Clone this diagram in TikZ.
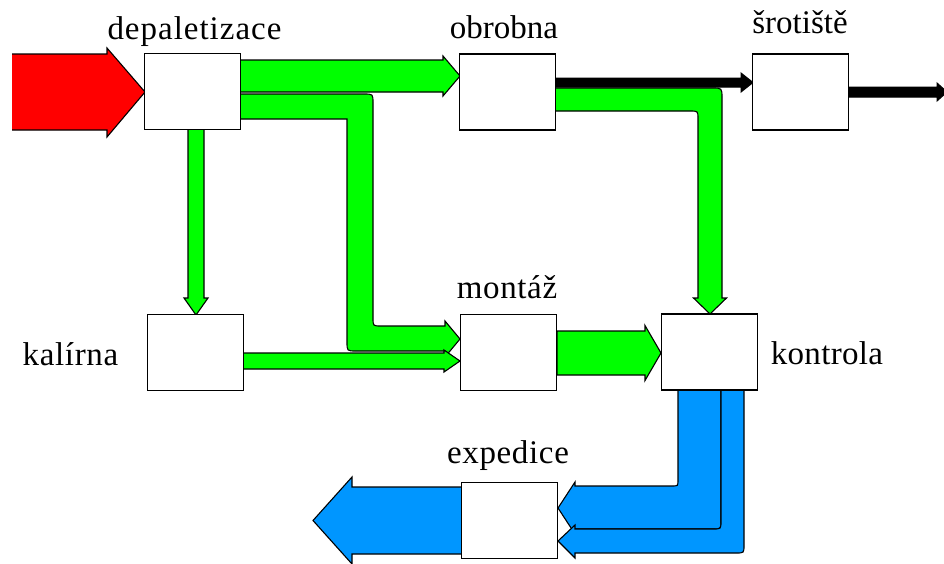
\documentclass[tikz,border=0pt]{standalone}
\usepackage{fontspec}
\setmainfont{Liberation Serif}
\definecolor{grn}{RGB}{0,255,0}
\definecolor{blu}{RGB}{0,150,255}
\definecolor{rd}{RGB}{255,0,0}
\begin{document}
\begin{tikzpicture}[x=1pt,y=-1pt,
  box/.style={draw=black, fill=white, line width=1.3pt, minimum width=96pt, minimum height=76pt, inner sep=0pt},
  lbl/.style={font=\fontsize{33}{40}\selectfont\addfontfeature{LetterSpace=#1}, anchor=base, inner sep=0pt},
  lbl/.default=2,
  ga/.style={fill=grn, draw=black, line width=1.1pt, line join=miter},
  ba/.style={fill=blu, draw=black, line width=1.1pt, line join=miter},
  ka/.style={fill=black, draw=black, line width=1pt, line join=miter}]
\useasboundingbox (0,0) rectangle (944,563);

% green arrows
\draw[ga] (240,60) -- (443,60) -- (443,56) -- (460,76) -- (443,96) -- (443,92) -- (240,92) -- cycle;
\draw[ga] (240,94) -- (364,94) .. controls (373,94) .. (373,103) -- (373,318) .. controls (373,326) .. (381,326) -- (445,326) -- (445,321) -- (460,339) -- (445,357) -- (445,351) -- (356,351) .. controls (347,351) .. (347,342) -- (347,119) -- (240,119) -- cycle;
\draw[ga] (243,353) -- (444,353) -- (444,350) -- (460,361) -- (444,372) -- (444,369) -- (243,369) -- cycle;
\draw[ga] (188,129) -- (188,298) -- (184,298) -- (196,315) -- (208,298) -- (204,298) -- (204,129) -- cycle;
\draw[ga] (557,331) -- (645,331) -- (645,325.5) -- (661,353) -- (645,380.5) -- (645,375) -- (557,375) -- cycle;
\draw[ga] (555,88) -- (712,88) .. controls (722,88) .. (722,98) -- (722,298) -- (726.5,298) -- (710,314) -- (693.5,298) -- (698,298) -- (698,119) .. controls (698,111) .. (690,111) -- (555,111) -- cycle;

% black arrows
\draw[ka] (555,78) -- (741,78) -- (741,73) -- (753,82.5) -- (741,92) -- (741,87) -- (555,87) -- cycle;
\draw[ka] (848,87) -- (937,87) -- (937,83) -- (947,92) -- (937,101) -- (937,97) -- (848,97) -- cycle;

% blue arrows
\draw[ba] (721,390) -- (721,521) .. controls (721,529) .. (713,529) -- (575,529) -- (575,534) -- (558,508) -- (575,482) -- (575,486) -- (672,486) .. controls (678,486) .. (678,480) -- (678,390) -- cycle;
\draw[ba] (744,390) -- (744,545) .. controls (744,553) .. (736,553) -- (575,553) -- (575,558) -- (558,541) -- (575,525) -- (575,529) -- (713,529) .. controls (721,529) .. (721,521) -- (721,390) -- cycle;
\draw[ba] (470,487) -- (352,487) -- (352,477) -- (313,520.5) -- (352,564) -- (352,554) -- (470,554) -- cycle;

% red arrow
\fill[rd] (12,54) -- (107,54) -- (107,48) -- (145,92) -- (107,137) -- (107,130) -- (12,130) -- cycle;
\draw[line width=1.1pt, line join=miter] (12,54) -- (107,54) -- (107,48) -- (145,92) -- (107,137) -- (107,130) -- (12,130);

% boxes
\node[box] (dep) at (192.5,91.5) {};
\node[box] (obr) at (507.5,92) {};
\node[box] (srot) at (800.5,92) {};
\node[box] (kal) at (195.5,352.5) {};
\node[box] (mon) at (508.5,352.5) {};
\node[box] (kon) at (709.5,352) {};
\node[box] (exp) at (509.5,520.5) {};

% labels
\node[lbl=3] (ldep) at (194.5,39) {depaletizace};
\node[lbl=0] (lobr) at (504,38) {obrobna};
\node[lbl=0] (lsrot) at (800,33) {šrotiště};
\node[lbl] (lmon) at (507,298) {montáž};
\node[lbl] (lkal) at (70.5,365) {kalírna};
\node[lbl=1] (lkon) at (827,364) {kontrola};
\node[lbl] (lexp) at (508,463) {expedice};
\end{tikzpicture}
\end{document}
